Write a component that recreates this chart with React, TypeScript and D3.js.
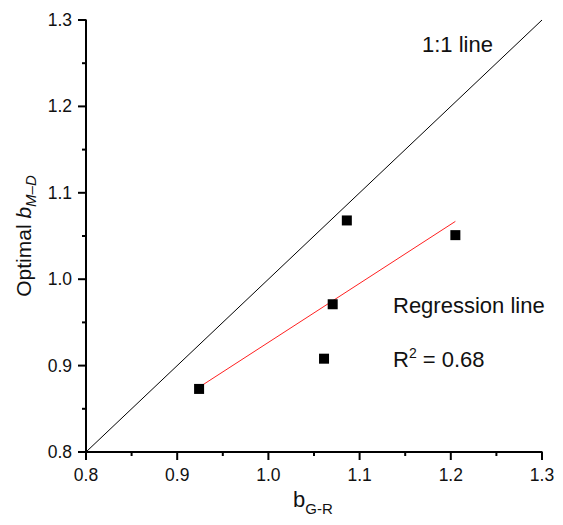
import React from "react";
import * as d3 from "d3";

const bGR = [0.924, 1.086, 1.205, 1.0705, 1.061];
const bMD = [0.873, 1.068, 1.051, 0.971, 0.908];
const majorTicks = [0.8, 0.9, 1.0, 1.1, 1.2, 1.3];
const minorTicks = [0.85, 0.95, 1.05, 1.15, 1.25];
const oneToOne = [0.8, 1.3];
const r2Text = "0.68";

const W = 563, H = 525;
const M = { left: 86, right: 542, top: 20, bottom: 452 };
const FONT = "Arial, 'Liberation Sans', sans-serif";

export default function App() {
  const x = d3.scaleLinear().domain([0.8, 1.3]).range([M.left, M.right]);
  const y = d3.scaleLinear().domain([0.8, 1.3]).range([M.bottom, M.top]);

  // linear regression
  const mx = d3.mean(bGR)!;
  const my = d3.mean(bMD)!;
  let sxy = 0, sxx = 0;
  bGR.forEach((v, i) => { sxy += (v - mx) * (bMD[i] - my); sxx += (v - mx) * (v - mx); });
  const slope = sxy / sxx;
  const icpt = my - slope * mx;
  const xmin = d3.min(bGR)!, xmax = d3.max(bGR)!;
  const line = d3.line<[number, number]>().x(d => x(d[0])).y(d => y(d[1]));
  const regPts: [number, number][] = [[xmin, icpt + slope * xmin], [xmax, icpt + slope * xmax]];
  const diagPts: [number, number][] = oneToOne.map(v => [v, v]);

  const sq = 10;
  return (
    <svg width={W} height={H} style={{ position: "absolute", left: 0, top: 0 }} fontFamily={FONT}>
      <rect width={W} height={H} fill="#fff" />
      {/* 1:1 line */}
      <path d={line(diagPts)!} stroke="#000" strokeWidth={1} fill="none" />
      {/* regression */}
      <path d={line(regPts)!} stroke="#ff2020" strokeWidth={1} fill="none" />
      {bGR.map((v, i) => (
        <rect key={i} x={x(v) - sq / 2} y={y(bMD[i]) - sq / 2} width={sq} height={sq} fill="#000" />
      ))}
      {/* axes */}
      <line x1={M.left} x2={M.right + 0.5} y1={M.bottom} y2={M.bottom} stroke="#000" strokeWidth={2} />
      <line x1={M.left} x2={M.left} y1={M.top - 0.5} y2={M.bottom + 1} stroke="#000" strokeWidth={2} />
      {majorTicks.map(t => (
        <g key={"mx" + t}>
          <line x1={x(t)} x2={x(t)} y1={M.bottom} y2={M.bottom + 8} stroke="#000" strokeWidth={2} />
          <text x={x(t)} y={481} fontSize={17.5} textAnchor="middle" fill="#111">{t.toFixed(1)}</text>
          <line x1={M.left - 8} x2={M.left} y1={y(t)} y2={y(t)} stroke="#000" strokeWidth={2} />
          <text x={72} y={y(t) + 6} fontSize={17.5} textAnchor="end" fill="#111">{t.toFixed(1)}</text>
        </g>
      ))}
      {minorTicks.map(t => (
        <g key={"mn" + t}>
          <line x1={x(t)} x2={x(t)} y1={M.bottom} y2={M.bottom + 4} stroke="#000" strokeWidth={2} />
          <line x1={M.left - 4} x2={M.left} y1={y(t)} y2={y(t)} stroke="#000" strokeWidth={2} />
        </g>
      ))}
      {/* axis labels */}
      <text x={293} y={507} fontSize={22} fill="#111">
        b<tspan fontSize={15} dy={7}>G-R</tspan>
      </text>
      <text transform={`translate(31, ${(M.top + M.bottom) / 2}) rotate(-90)`} textAnchor="middle" fontSize={21} fill="#111">
        Optimal <tspan fontStyle="italic">b</tspan>
        <tspan fontStyle="italic" fontSize={15} dy={5}>M–D</tspan>
      </text>
      {/* annotations */}
      <text x={422} y={52} fontSize={22} fill="#111">1:1 line</text>
      <text x={393} y={313} fontSize={22} fill="#111">Regression line</text>
      <text x={393} y={367} fontSize={22} fill="#111">
        R<tspan fontSize={14} dy={-9}>2</tspan><tspan dy={9}> = {r2Text}</tspan>
      </text>
    </svg>
  );
}
